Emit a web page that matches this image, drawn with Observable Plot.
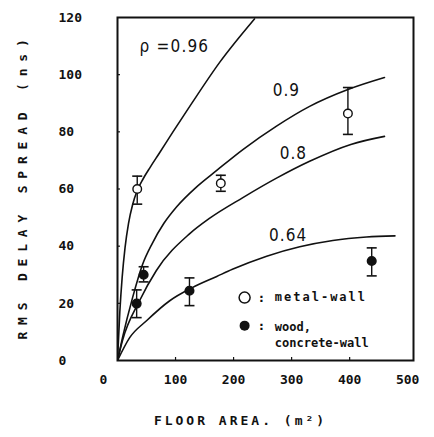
<!DOCTYPE html>
<html>
<head>
<meta charset="utf-8">
<script src="https://cdn.jsdelivr.net/npm/d3@7"></script>
<script src="https://cdn.jsdelivr.net/npm/@observablehq/plot@0.6"></script>
<style>
  html, body { margin: 0; padding: 0; background: #fff; }
</style>
</head>
<body>
<div id="chart"></div>
<script>
// ---- data ----
const xTicks = [0, 100, 200, 300, 400, 500];
const yTicks = [0, 20, 40, 60, 80, 100, 120];

// curves: [floor area (m²), rms delay spread (ns)]
const curve096 = [[0,0],[4,17],[8,29],[13,39.5],[19,48],[26,54.5],[34,59.5],[44,63.5],[56,67.5],[72,72.5],[95,79.8],[129,90.3],[176,104.3],[236,119.5]];
const curve09  = [[0,0],[8.6,8],[26,22],[43,33.5],[60,41],[80,48],[102,53.8],[135,60.5],[171,66.5],[216,73.8],[274,82],[331,88.9],[397,94.8],[460,99]];
const curve08  = [[0,0],[8.6,7],[38,20.9],[67,31.5],[124,44.3],[159,49.8],[216,57],[274,63.8],[331,69.7],[402,75.6],[460,78.4]];
const curve064 = [[0,0],[21,8],[50,13.9],[90,20.9],[128,25.4],[171,29.4],[198,31.9],[257,36.5],[314,39.8],[371,42],[429,43.2],[478,43.6]];

// measured points: area, mean, low, high
const metalArea = [34, 178, 397];
const metalMean = [60, 62, 86.4];
const metalLow  = [54.7, 59.2, 79.1];
const metalHigh = [64.5, 64.8, 95.5];

const woodArea = [45, 33, 124, 438];
const woodMean = [30, 19.9, 24.4, 34.8];
const woodLow  = [27.5, 15, 19.2, 29.6];
const woodHigh = [32.8, 24.7, 28.9, 39.4];

const curveLabels = ["\u03c1 =0.96", "0.9", "0.8", "0.64"];
const curveLabelX = [98, 291, 303, 294];
const curveLabelY = [110, 94.4, 72.5, 43.6];

const legendText = ["metal-wall", "wood,", "concrete-wall"];

// ---- build tables ----
const toRows = (arr, rho) => arr.map(([a, d]) => ({area: a, delay: d, rho}));
const curves = [
  ...toRows(curve096, "0.96"), ...toRows(curve09, "0.9"),
  ...toRows(curve08, "0.8"), ...toRows(curve064, "0.64")
];
const metal = metalArea.map((a, i) => ({area: a, mean: metalMean[i], low: metalLow[i], high: metalHigh[i]}));
const wood = woodArea.map((a, i) => ({area: a, mean: woodMean[i], low: woodLow[i], high: woodHigh[i]}));
const allPts = [...metal, ...wood];
const labels = curveLabels.map((t, i) => ({t, x: curveLabelX[i], y: curveLabelY[i]}));

const capSymbol = {
  draw(ctx, size) {
    const r = Math.sqrt(size / Math.PI);
    ctx.moveTo(-r, 0); ctx.lineTo(r, 0);
  }
};

const mono = "'DejaVu Sans Mono', 'Liberation Mono', monospace";
const sans = "'DejaVu Sans Condensed', 'DejaVu Sans', sans-serif";

const chart = Plot.plot({
  width: 434,
  height: 437,
  marginLeft: 117,
  marginRight: 21,
  marginTop: 17,
  marginBottom: 77,
  style: {fontFamily: mono, background: "#fff", color: "#111"},
  x: {domain: [0, 510]},
  y: {domain: [0, 120]},
  marks: [
    Plot.axisX({ticks: xTicks, tickSize: 0, tickPadding: 14, tickFormat: d => String(d), fontSize: 13, fontWeight: "bold", label: null}),
    Plot.axisX({ticks: xTicks.slice(1, -1), tickSize: -3, tickFormat: () => "", label: null, strokeWidth: 1.2}),
    Plot.axisY({ticks: yTicks, tickSize: 0, tickPadding: 0, textAnchor: "start", dx: -59, tickFormat: d => String(d), fontSize: 13, fontWeight: "bold", label: null}),
    Plot.axisY({ticks: yTicks.slice(1, -1), tickSize: -3, tickFormat: () => "", label: null, strokeWidth: 1.2}),
    Plot.line(curves, {x: "area", y: "delay", z: "rho", curve: "monotone-x", stroke: "#111", strokeWidth: 1.6, clip: true}),
    Plot.ruleX(allPts, {x: "area", y1: "low", y2: "high", stroke: "#111", strokeWidth: 1.4}),
    Plot.dot(allPts, {x: "area", y: "low", symbol: capSymbol, r: 5, stroke: "#111", strokeWidth: 1.6}),
    Plot.dot(allPts, {x: "area", y: "high", symbol: capSymbol, r: 5, stroke: "#111", strokeWidth: 1.6}),
    Plot.dot(metal, {x: "area", y: "mean", r: 4.3, fill: "#fff", stroke: "#111", strokeWidth: 1.4}),
    Plot.dot(wood, {x: "area", y: "mean", r: 4.3, fill: "#111", stroke: "#111"}),
    Plot.text(labels, {x: "x", y: "y", text: "t", fontSize: 17, fontFamily: sans, fill: "#111"}),
    // legend
    Plot.dot([{x: 219, y: 22}], {x: "x", y: "y", r: 5.5, fill: "#fff", stroke: "#111", strokeWidth: 1.5}),
    Plot.dot([{x: 219, y: 12.2}], {x: "x", y: "y", r: 5, fill: "#111"}),
    Plot.text([{x: 248, y: 22}, {x: 248, y: 12.2}], {x: "x", y: "y", text: () => ":", fontSize: 13, fontWeight: "bold"}),
    Plot.text([{x: 271, y: 22, t: legendText[0]}, {x: 271, y: 11.5, t: legendText[1]}, {x: 271, y: 6.2, t: legendText[2]}],
      {x: "x", y: "y", text: "t", textAnchor: "start", fontSize: 12, fontWeight: "bold", fill: "#111"}),
    // axis titles
    Plot.text(["RMS DELAY SPREAD (ns)"], {frameAnchor: "left", textAnchor: "middle", dx: -95, dy: -3, rotate: -90, fontSize: 13, fontWeight: "bold", fill: "#111"}),
    Plot.text(["FLOOR AREA. (m\u00b2)"], {frameAnchor: "bottom", dy: 64, dx: -25, fontSize: 13, fontWeight: "bold", fill: "#111"}),
    Plot.frame({stroke: "#111", strokeWidth: 2})
  ]
});
document.getElementById("chart").appendChild(chart);

// letter spacing to match the typewriter-like lettering
d3.select(chart).selectAll("text").each(function() {
  const t = d3.select(this);
  const s = t.text();
  if (s === "RMS DELAY SPREAD (ns)") t.style("letter-spacing", "6.8px");
  if (s === "FLOOR AREA. (m\u00b2)") t.style("letter-spacing", "3px");
  if (s === "metal-wall") t.style("letter-spacing", "2px");
  if (s === "0.9" || s === "0.8" || s === "0.64") t.style("letter-spacing", "1px");
  if (s === "\u03c1 =0.96") t.style("letter-spacing", "1.2px");
});
d3.select(chart).selectAll('g[aria-label="x-axis tick label"] text')
  .filter(function() { return d3.select(this).text() === "0"; })
  .attr("dx", -14);
</script>
</body>
</html>
